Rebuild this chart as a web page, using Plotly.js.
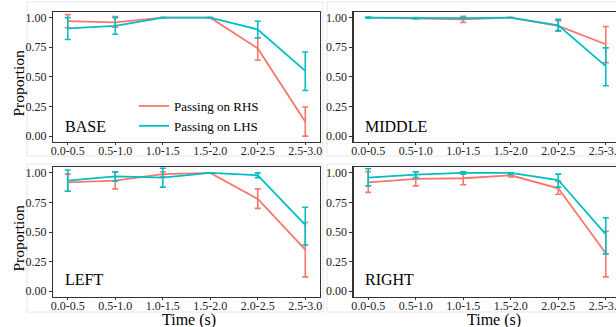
<!DOCTYPE html>
<html>
<head>
<meta charset="utf-8">
<script src="https://cdn.plot.ly/plotly-3.0.1.min.js"></script>
<style>
  html, body { margin: 0; padding: 0; overflow: hidden; background: #ffffff; }
  #chart { width: 640px; height: 327px; }
</style>
</head>
<body>
<div id="chart"></div>
<script>
// ---- data ----
var categories = ['0.0-0.5', '0.5-1.0', '1.0-1.5', '1.5-2.0', '2.0-2.5', '2.5-3.0'];
var yTickVals = [0, 0.25, 0.5, 0.75, 1];
var seriesNames = ['Passing on RHS', 'Passing on LHS'];
var panelNames = ['BASE', 'MIDDLE', 'LEFT', 'RIGHT'];
var xTitle = 'Time (s)';
var yTitle = 'Proportion';

// BASE
var baseRhsMean = [0.97, 0.96, 1.00, 1.00, 0.74, 0.12];
var baseRhsLow  = [0.915, 0.92, 1.00, 1.00, 0.64, 0.00];
var baseRhsHigh = [1.025, 1.01, 1.00, 1.00, 0.83, 0.245];
var baseLhsMean = [0.91, 0.93, 1.00, 1.00, 0.90, 0.55];
var baseLhsLow  = [0.815, 0.86, 1.00, 1.00, 0.83, 0.385];
var baseLhsHigh = [1.00, 1.00, 1.00, 1.00, 0.97, 0.71];

// MIDDLE
var midRhsMean = [1.00, 0.99, 0.985, 1.00, 0.93, 0.775];
var midRhsLow  = [1.00, 0.99, 0.96, 1.00, 0.885, 0.62];
var midRhsHigh = [1.00, 0.99, 1.012, 1.00, 0.975, 0.925];
var midLhsMean = [1.00, 0.995, 0.995, 1.00, 0.935, 0.59];
var midLhsLow  = [0.995, 0.99, 0.99, 1.00, 0.89, 0.425];
var midLhsHigh = [1.005, 1.00, 1.00, 1.00, 0.985, 0.745];

// LEFT
var leftRhsMean = [0.92, 0.935, 0.99, 1.00, 0.78, 0.35];
var leftRhsLow  = [0.845, 0.865, 0.97, 1.00, 0.70, 0.12];
var leftRhsHigh = [0.99, 1.005, 1.01, 1.00, 0.865, 0.58];
var leftLhsMean = [0.935, 0.97, 0.96, 1.00, 0.98, 0.56];
var leftLhsLow  = [0.845, 0.93, 0.88, 1.00, 0.96, 0.39];
var leftLhsHigh = [1.025, 1.01, 1.04, 1.00, 1.00, 0.71];

// RIGHT
var rightRhsMean = [0.92, 0.95, 0.955, 0.98, 0.87, 0.32];
var rightRhsLow  = [0.835, 0.89, 0.90, 0.965, 0.82, 0.12];
var rightRhsHigh = [1.01, 1.01, 1.01, 0.995, 0.93, 0.505];
var rightLhsMean = [0.96, 0.985, 1.00, 1.00, 0.94, 0.48];
var rightLhsLow  = [0.89, 0.96, 0.99, 0.99, 0.88, 0.315];
var rightLhsHigh = [1.035, 1.01, 1.01, 1.00, 0.99, 0.62];

// ---- styling / layout ----
var W = 640, H = 327;
var RED = '#F8766D', TEAL = '#00BFC4';
var FONT = 'Liberation Serif, Times New Roman, Times, serif';
function px(x) { return x / W; }
function py(y) { return (H - y) / H; }

var panels = [
  {name: panelNames[0], rm: baseRhsMean, rl: baseRhsLow, rh: baseRhsHigh, lm: baseLhsMean, ll: baseLhsLow, lh: baseLhsHigh, xa: 'x', ya: 'y'},
  {name: panelNames[1], rm: midRhsMean, rl: midRhsLow, rh: midRhsHigh, lm: midLhsMean, ll: midLhsLow, lh: midLhsHigh, xa: 'x2', ya: 'y2'},
  {name: panelNames[2], rm: leftRhsMean, rl: leftRhsLow, rh: leftRhsHigh, lm: leftLhsMean, ll: leftLhsLow, lh: leftLhsHigh, xa: 'x3', ya: 'y3'},
  {name: panelNames[3], rm: rightRhsMean, rl: rightRhsLow, rh: rightRhsHigh, lm: rightLhsMean, ll: rightLhsLow, lh: rightLhsHigh, xa: 'x4', ya: 'y4'}
];

function errObj(mean, low, high, color) {
  return {
    type: 'data', symmetric: false,
    array: high.map(function (h, i) { return h - mean[i]; }),
    arrayminus: low.map(function (l, i) { return mean[i] - l; }),
    color: color, thickness: 1.6, width: 3
  };
}

var traces = [];
panels.forEach(function (p, k) {
  traces.push({
    type: 'scatter', mode: 'lines', x: categories, y: p.rm,
    xaxis: p.xa, yaxis: p.ya, name: seriesNames[0],
    line: {color: RED, width: 1.8}, error_y: errObj(p.rm, p.rl, p.rh, RED),
    showlegend: k === 0, legendgroup: 'rhs', hoverinfo: 'x+y'
  });
  traces.push({
    type: 'scatter', mode: 'lines', x: categories, y: p.lm,
    xaxis: p.xa, yaxis: p.ya, name: seriesNames[1],
    line: {color: TEAL, width: 1.8}, error_y: errObj(p.lm, p.ll, p.lh, TEAL),
    showlegend: k === 0, legendgroup: 'lhs', hoverinfo: 'x+y'
  });
});

var colX = [[53, 320], [353.5, 620.5]];
var rowY = [[11.7, 142], [167, 297]];

function xAxis(col, row) {
  return {
    domain: [px(colX[col][0]), px(colX[col][1])],
    type: 'category', range: [-0.31, 5.31],
    showgrid: false, zeroline: false,
    showline: true, mirror: true, linecolor: '#333333', linewidth: 1.2,
    ticks: 'outside', ticklen: 2, tickwidth: 1, tickcolor: '#333333',
    ticklabelstandoff: -5,
    tickfont: {family: FONT, size: 12, color: '#222222'},
    anchor: (col === 0 && row === 0) ? 'y' : ('y' + (row * 2 + col + 1)),
    fixedrange: true
  };
}
function yAxis(col, row) {
  return {
    domain: [py(rowY[row][1]), py(rowY[row][0])],
    range: [-0.05, 1.05],
    tickvals: yTickVals, tickformat: '.2f',
    showgrid: false, zeroline: false,
    showline: true, mirror: true, linecolor: '#333333', linewidth: 1.2,
    ticks: 'outside', ticklen: 3, tickwidth: 1, tickcolor: '#333333',
    tickfont: {family: FONT, size: 12, color: '#222222'},
    anchor: (col === 0 && row === 0) ? 'x' : ('x' + (row * 2 + col + 1)),
    fixedrange: true
  };
}

var panelLabelPos = [[63, 126], [363, 126], [63, 279], [363, 279]];
var annotations = panels.map(function (p, k) {
  return {
    text: p.name, xref: 'paper', yref: 'paper',
    x: px(panelLabelPos[k][0]), y: py(panelLabelPos[k][1]),
    xanchor: 'left', yanchor: 'middle', showarrow: false,
    font: {family: FONT, size: 16, color: '#000000'}
  };
});
// axis titles placed as annotations (exact positions)
[[18, 83.5], [18, 238.5]].forEach(function (p) {
  annotations.push({
    text: yTitle, xref: 'paper', yref: 'paper', x: px(p[0]), y: py(p[1]),
    xanchor: 'center', yanchor: 'middle', textangle: -90, showarrow: false,
    font: {family: FONT, size: 15.5, color: '#000000'}
  });
});
[[189, 319.5], [494, 319.5]].forEach(function (p) {
  annotations.push({
    text: xTitle, xref: 'paper', yref: 'paper', x: px(p[0]), y: py(p[1]),
    xanchor: 'center', yanchor: 'middle', showarrow: false,
    font: {family: FONT, size: 16, color: '#000000'}
  });
});

// light outer boxes around each sub-figure
var boxes = [[27, 2, 323, 156], [327, 2, 660, 156], [27, 164, 323, 312], [327, 164, 660, 312]];
var shapes = boxes.map(function (b) {
  return {
    type: 'rect', xref: 'paper', yref: 'paper', layer: 'below',
    x0: px(b[0]), x1: px(b[2]), y0: py(b[3]), y1: py(b[1]),
    line: {color: '#E6E6E6', width: 1}, fillcolor: 'rgba(0,0,0,0)'
  };
});

var layout = {
  width: W, height: H,
  margin: {l: 0, r: 0, t: 0, b: 0, pad: 0},
  paper_bgcolor: '#ffffff', plot_bgcolor: '#ffffff',
  font: {family: FONT, color: '#000000'},
  showlegend: true,
  legend: {
    x: px(134), y: py(91), xanchor: 'left', yanchor: 'top',
    bgcolor: 'rgba(0,0,0,0)', borderwidth: 0,
    font: {family: FONT, size: 13, color: '#000000'},
    itemwidth: 30, tracegroupgap: 0
  },
  xaxis: xAxis(0, 0),
  yaxis: yAxis(0, 0),
  xaxis2: xAxis(1, 0),
  yaxis2: yAxis(1, 0),
  xaxis3: xAxis(0, 1),
  yaxis3: yAxis(0, 1),
  xaxis4: xAxis(1, 1),
  yaxis4: yAxis(1, 1),
  annotations: annotations,
  shapes: shapes
};

Plotly.newPlot('chart', traces, layout, {displayModeBar: false, staticPlot: true});
</script>
</body>
</html>
